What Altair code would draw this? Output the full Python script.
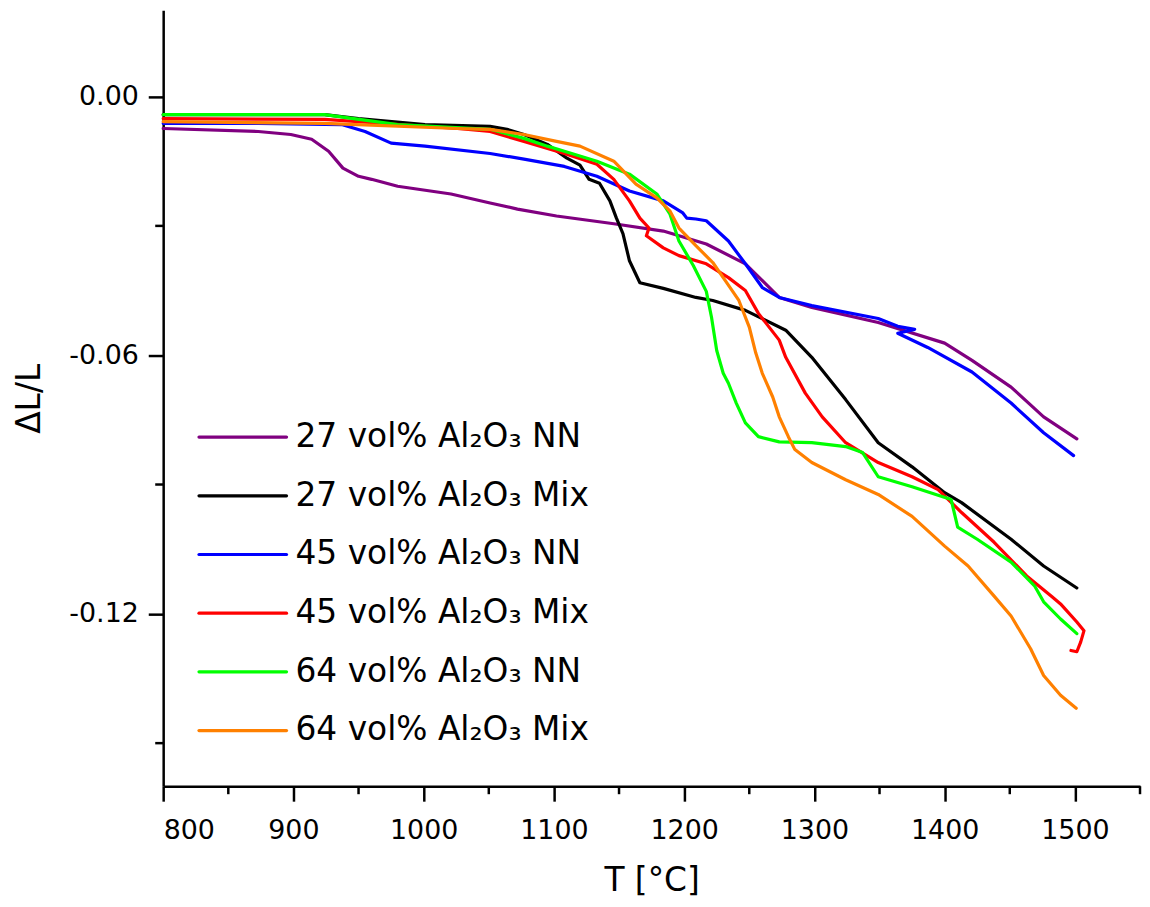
import altair as alt
import pandas as pd

# ---- series names and colours ----
series = ["27 vol% Al₂O₃ NN", "27 vol% Al₂O₃ Mix", "45 vol% Al₂O₃ NN",
          "45 vol% Al₂O₃ Mix", "64 vol% Al₂O₃ NN", "64 vol% Al₂O₃ Mix"]
colors = ["#800080", "#000000", "#0000FF", "#FF0000", "#00FF00", "#FF8000"]

# ---- data: T [°C] and ΔL/L ----
T_27NN = [800, 873, 898, 914, 927, 938, 950, 960, 980, 1021, 1051, 1072, 1102, 1146,
          1184, 1217, 1247, 1273, 1298, 1349, 1400, 1421, 1451, 1476, 1501.5]
D_27NN = [-0.0074, -0.0081, -0.0088, -0.0099, -0.0127, -0.0166, -0.0185, -0.0192, -0.0208,
          -0.0226, -0.0247, -0.0261, -0.0277, -0.0295, -0.0312, -0.0342, -0.0388, -0.0466,
          -0.0489, -0.0524, -0.0572, -0.0612, -0.0674, -0.0743, -0.0794]

T_27Mix = [800, 924, 950, 1001, 1051, 1064, 1077, 1095, 1110, 1120, 1127, 1135, 1143, 1148,
           1153, 1158, 1166, 1184, 1209, 1222, 1247, 1278, 1298, 1324, 1349, 1375, 1400,
           1413, 1451, 1476, 1501.5]
D_27Mix = [-0.0042, -0.0042, -0.0051, -0.0065, -0.0069, -0.0076, -0.0088, -0.0111, -0.0143,
           -0.0159, -0.0192, -0.0201, -0.0242, -0.0282, -0.0318, -0.0381, -0.0432, -0.0445,
           -0.0466, -0.0473, -0.0496, -0.0542, -0.0605, -0.0703, -0.0803, -0.0859, -0.0919,
           -0.0942, -0.1027, -0.1089, -0.1140]

T_45NN = [800, 873, 937, 955, 975, 1001, 1051, 1077, 1108, 1133, 1158, 1184, 1199, 1202,
          1209, 1217, 1234, 1247, 1260, 1273, 1298, 1349, 1364, 1377, 1364, 1387, 1421,
          1451, 1476, 1499]
D_45NN = [-0.0062, -0.0062, -0.0065, -0.0081, -0.0108, -0.0115, -0.0132, -0.0145, -0.0162,
          -0.0185, -0.0219, -0.0242, -0.0270, -0.0282, -0.0284, -0.0288, -0.0335, -0.0388,
          -0.0443, -0.0466, -0.0485, -0.0515, -0.0533, -0.0540, -0.0549, -0.0582, -0.0639,
          -0.0711, -0.0780, -0.0833]

T_45Mix = [800, 924, 1026, 1051, 1077, 1108, 1133, 1146, 1158, 1166, 1173, 1171, 1184, 1196,
           1217, 1234, 1247, 1257, 1273, 1278, 1293, 1306, 1324, 1349, 1375, 1395, 1413,
           1438, 1463, 1482, 1489, 1501.5, 1507, 1504.5, 1501.5, 1497]
D_45Mix = [-0.0051, -0.0053, -0.0074, -0.0081, -0.0104, -0.0132, -0.0157, -0.0192, -0.0242,
           -0.0282, -0.0305, -0.0323, -0.0351, -0.0369, -0.0388, -0.0420, -0.0450, -0.0503,
           -0.0565, -0.0605, -0.0688, -0.0743, -0.0803, -0.0849, -0.0882, -0.0912, -0.0965,
           -0.1034, -0.1112, -0.1159, -0.1177, -0.1219, -0.1239, -0.1265, -0.1288, -0.1285]

T_64NN = [800, 924, 980, 1051, 1077, 1095, 1108, 1133, 1158, 1179, 1189, 1196, 1207, 1217,
          1221, 1225, 1230, 1234, 1240, 1247, 1257, 1273, 1298, 1324, 1337, 1349, 1375,
          1405, 1410, 1425, 1451, 1469, 1476, 1489, 1501.5]
D_64NN = [-0.0042, -0.0042, -0.0065, -0.0076, -0.0097, -0.0115, -0.0127, -0.0150, -0.0180,
          -0.0226, -0.0272, -0.0335, -0.0392, -0.0452, -0.0512, -0.0589, -0.0642, -0.0665,
          -0.0711, -0.0757, -0.0789, -0.0801, -0.0803, -0.0812, -0.0826, -0.0882, -0.0905,
          -0.0935, -0.0999, -0.1027, -0.1080, -0.1135, -0.1172, -0.1212, -0.1246]

T_64Mix = [800, 924, 1026, 1051, 1077, 1102, 1120, 1146, 1163, 1179, 1189, 1196, 1209, 1222,
           1230, 1242, 1250, 1255, 1260, 1268, 1273, 1280, 1285, 1298, 1324, 1349, 1375,
           1400, 1418, 1438, 1451, 1466, 1476, 1489, 1501]
D_64Mix = [-0.0058, -0.0062, -0.0074, -0.0076, -0.0088, -0.0104, -0.0115, -0.0150, -0.0203,
           -0.0235, -0.0265, -0.0305, -0.0346, -0.0385, -0.0420, -0.0473, -0.0535, -0.0595,
           -0.0642, -0.0697, -0.0743, -0.0789, -0.0819, -0.0849, -0.0889, -0.0923, -0.0974,
           -0.1043, -0.1089, -0.1159, -0.1205, -0.1281, -0.1343, -0.1389, -0.1419]

# ---- axis ticks ----
x_major = [800, 900, 1000, 1100, 1200, 1300, 1400, 1500]
x_minor = [850, 950, 1050, 1150, 1250, 1350, 1450, 1550]
y_major = [-0.12, -0.06, 0.00]
y_minor = [-0.15, -0.09, -0.03]

all_T = [T_27NN, T_27Mix, T_45NN, T_45Mix, T_64NN, T_64Mix]
all_D = [D_27NN, D_27Mix, D_45NN, D_45Mix, D_64NN, D_64Mix]

rows = []
for name, Ts, Ds in zip(series, all_T, all_D):
    for i, (t, d) in enumerate(zip(Ts, Ds)):
        rows.append({"series": name, "T": t, "dLL": d, "i": i})
df = pd.DataFrame(rows)

FONT = "DejaVu Sans"
x_scale = alt.Scale(domain=[800, 1550], nice=False, zero=False)
y_scale = alt.Scale(domain=[-0.16, 0.02], nice=False, zero=False)
color_scale = alt.Scale(domain=series, range=colors)

x_axis = alt.Axis(values=x_major, format="d", title="T [°C]")
y_axis = alt.Axis(values=y_major, format=".2f",
                  labelExpr="replace(datum.label, '\u2212', '-')", title="ΔL/L")

lines = alt.Chart(df).mark_line(strokeWidth=3.2, strokeJoin="round", strokeCap="round").encode(
    x=alt.X("T:Q", scale=x_scale, axis=x_axis),
    y=alt.Y("dLL:Q", scale=y_scale, axis=y_axis),
    color=alt.Color("series:N", scale=color_scale, legend=None),
    order=alt.Order("i:Q"),
)

xminor = alt.Chart(pd.DataFrame({"T": x_minor})).mark_rule(
    color="black", strokeWidth=2.5).encode(
    x=alt.X("T:Q", scale=x_scale, axis=x_axis),
    y=alt.value(780), y2=alt.value(788),
)
yminor = alt.Chart(pd.DataFrame({"dLL": y_minor})).mark_rule(
    color="black", strokeWidth=2.5).encode(
    y=alt.Y("dLL:Q", scale=y_scale, axis=y_axis),
    x=alt.value(-8), x2=alt.value(0),
)

leg_df = pd.DataFrame({"series": series, "idx": list(range(len(series)))})
leg_y = alt.Y("idx:Q", scale=alt.Scale(domain=[0, 5], range=[429, 724]), axis=None)
leg_rule = alt.Chart(leg_df).mark_rule(strokeWidth=3.2, strokeCap="round").encode(
    x=alt.value(36), x2=alt.value(124), y=leg_y,
    color=alt.Color("series:N", scale=color_scale, legend=None),
)
leg_text = alt.Chart(leg_df).mark_text(
    align="left", baseline="middle", font=FONT, fontSize=33, color="black").encode(
    x=alt.value(133), y=leg_y, text="series:N",
)

main = alt.layer(lines, xminor, yminor)
legend = alt.layer(leg_rule, leg_text)

chart = alt.layer(main, legend).resolve_scale(y="independent").properties(
    width=982, height=780,
    padding={"left": 156, "top": 0, "right": 2, "bottom": 116},
    autosize=alt.AutoSizeParams(type="none"),
).configure_view(stroke=None).configure_axis(
    grid=False,
    domainColor="black", domainWidth=2.5,
    tickColor="black", tickWidth=2.5, tickSize=15,
    labelFont=FONT, labelFontSize=27, labelColor="black", labelPadding=10,
    titleFont=FONT, titleFontSize=33, titleFontWeight="normal", titleColor="black",
).configure_axisX(labelPadding=17, titlePadding=21).configure_axisY(titlePadding=22)

chart.save("out.html", embed_options={"renderer": "svg", "actions": False})
